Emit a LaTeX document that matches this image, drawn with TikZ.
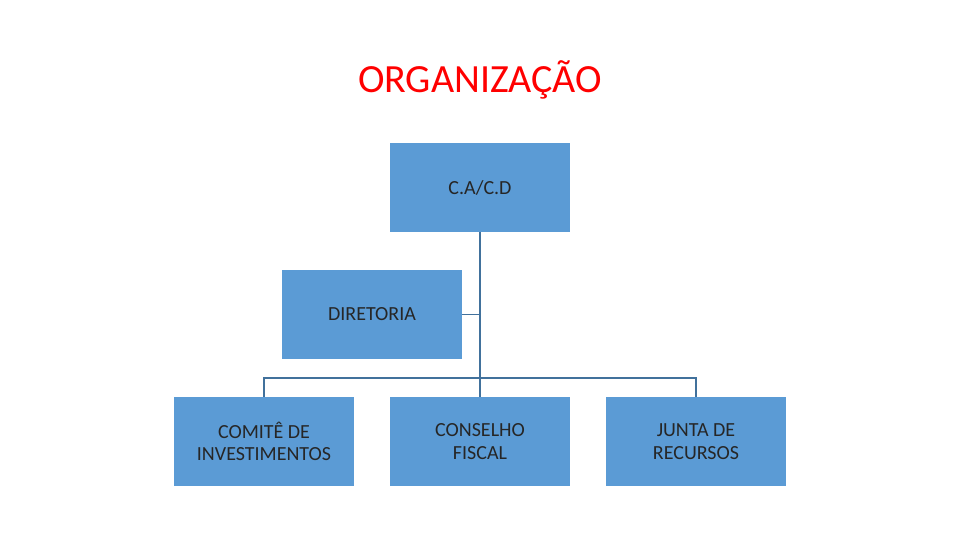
\documentclass[tikz,border=0pt]{standalone}
\usepackage{fontspec}
\setmainfont{Carlito}
\usetikzlibrary{positioning,calc}
\definecolor{boxblue}{HTML}{5B9BD5}
\definecolor{lineblue}{HTML}{41719C}
\tikzset{
  orgbox/.style={fill=boxblue,minimum width=135pt,minimum height=67pt,
    align=center,font=\fontsize{15}{17}\selectfont,text=black!85,inner sep=2pt},
  orgline/.style={draw=lineblue,line width=1.2pt}
}
\begin{document}
\begin{tikzpicture}[x=0.75pt,y=-0.75pt]
\useasboundingbox (0,0) rectangle (960,540);
\node[text=red,font=\fontsize{30}{34}\selectfont] (title) at (480,80) {ORGANIZAÇÃO};
\node[orgbox] (cacd) at (480,187.5) {C.A/C.D};
\node[orgbox] (dir) at (372,314.5) {DIRETORIA};
\node[orgbox] (comite) at (264,441.5) {COMITÊ DE\\INVESTIMENTOS};
\node[orgbox] (conselho) at (480,441.5) {CONSELHO\\FISCAL};
\node[orgbox] (junta) at (696,441.5) {JUNTA DE\\RECURSOS};
\coordinate (bus) at (480,378);
\draw[orgline] (cacd.south) -- (conselho.north);
\draw[orgline] (dir.east) -- (dir.east -| cacd.south);
\draw[orgline] (comite.north) -- (comite.north |- bus) -- (junta.north |- bus) -- (junta.north);
\end{tikzpicture}
\end{document}
